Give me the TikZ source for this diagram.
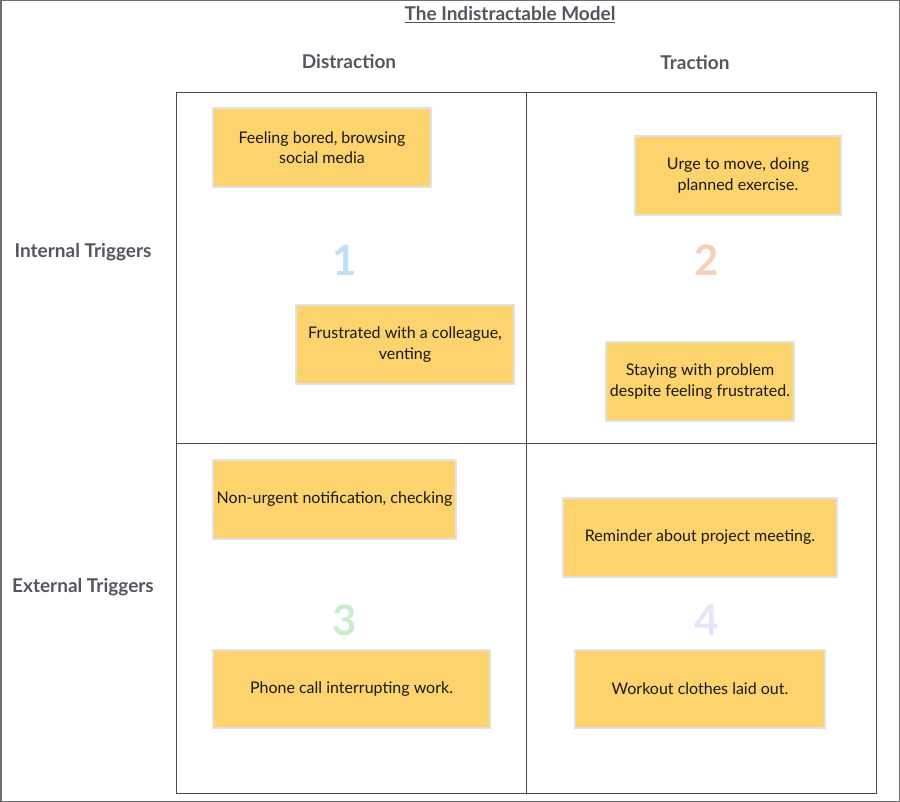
\documentclass[tikz,border=0pt]{standalone}
\usepackage{fontspec}
\setmainfont{Lato}
\definecolor{note}{HTML}{FDD36E}
\definecolor{noteedge}{HTML}{E2E2E2}
\definecolor{hdr}{HTML}{55555F}
\definecolor{gridc}{HTML}{4A4A4A}
\definecolor{nA}{HTML}{BFE1F8}
\definecolor{nB}{HTML}{F9CFB8}
\definecolor{nC}{HTML}{C8EECB}
\definecolor{nD}{HTML}{E4E4FA}
\begin{document}
\begin{tikzpicture}[x=1pt,y=-1pt,
  notebox/.style={draw=noteedge,line width=2pt,fill=note,inner sep=0pt,align=center,
    font=\fontsize{16}{20.5}\selectfont,text=black!90},
  header/.style={font=\bfseries\fontsize{19}{22}\selectfont,text=hdr},
  bignum/.style={font=\bfseries\fontsize{42}{44}\selectfont}]
\useasboundingbox (0,0) rectangle (900,802);
\draw[gridc!80,line width=1.5pt] (0.75,0.75) rectangle (899.25,801.25);
% grid
\draw[gridc,line width=1pt] (176,93) rectangle (876,793);
\draw[gridc,line width=1pt] (526,93) -- (526,793);
\draw[gridc,line width=1pt] (176,443) -- (876,443);
% title and headers
\node[header] (title) at (510,15) {\underline{The Indistractable Model}};
\node[header] (dist) at (349,62) {Distraction};
\node[header] (trac) at (695,63) {Traction};
\node[header] (intl) at (83,252) {Internal Triggers};
\node[header] (extl) at (83,587) {External Triggers};
% numbers
\node[bignum,text=nA] (n1) at (345,260) {1};
\node[bignum,text=nB] (n2) at (707,260) {2};
\node[bignum,text=nC] (n3) at (345,620) {3};
\node[bignum,text=nD] (n4) at (707,620) {4};
% notes
\node[notebox,minimum width=218pt,minimum height=79pt] (s1) at (322,147.5) {Feeling bored, browsing\\social media};
\node[notebox,minimum width=218pt,minimum height=79pt] (s2) at (405,344.5) {Frustrated with a colleague,\\venting};
\node[notebox,minimum width=206pt,minimum height=79pt] (s3) at (738,175.5) {Urge to move, doing\\planned exercise.};
\node[notebox,minimum width=188pt,minimum height=79pt] (s4) at (700,381.5) {Staying with problem\\despite feeling frustrated.};
\node[notebox,minimum width=243pt,minimum height=79pt] (s5) at (334.5,499.5) {Non-urgent notification, checking};
\node[notebox,minimum width=274pt,minimum height=79pt] (s6) at (700,537.5) {Reminder about project meeting.};
\node[notebox,minimum width=277pt,minimum height=78pt] (s7) at (351.5,689) {Phone call interrupting work.};
\node[notebox,minimum width=250pt,minimum height=78pt] (s8) at (700,689) {Workout clothes laid out.};
\end{tikzpicture}
\end{document}
